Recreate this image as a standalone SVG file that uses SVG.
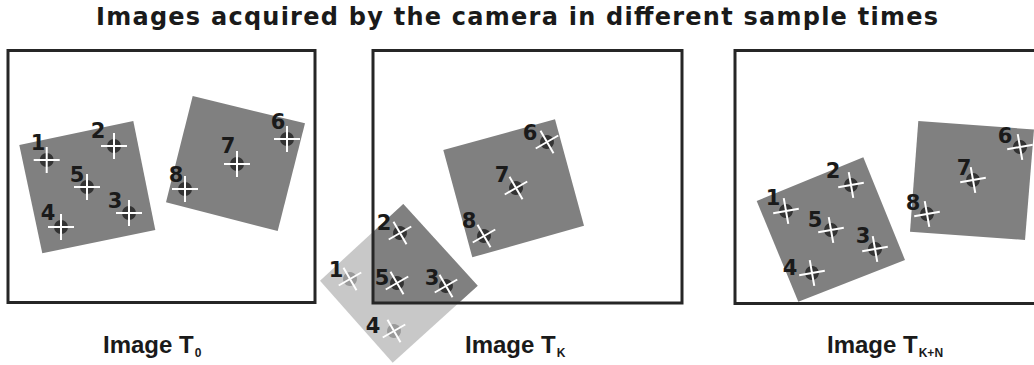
<svg xmlns="http://www.w3.org/2000/svg" xmlns:xlink="http://www.w3.org/1999/xlink" width="1034" height="365" viewBox="0 0 1034 365">
<style>
.frame{fill:none;stroke:#262626;stroke-width:3}
.sq{fill:#808080}
.sql{fill:#c8c8c8}
.num{font-family:"DejaVu Sans","Liberation Sans",sans-serif;font-weight:bold;font-size:21px;fill:#1a1a1a;text-anchor:middle}
.cap{font-family:"Liberation Sans",Arial,sans-serif;font-weight:bold;font-size:24px;fill:#1a1a1a}
.ttl{font-family:"DejaVu Sans","Liberation Sans",sans-serif;font-weight:bold;font-size:24px;fill:#1a1a1a}
.sub{font-size:12px}
</style>
<defs>
<g id="m"><circle r="7" fill="#333"/><path d="M-13 0H13M0-13V13" stroke="#fff" stroke-width="2" fill="none"/></g>
<g id="ml"><circle r="7" fill="#9a9a9a"/><path d="M-13 0H13M0-13V13" stroke="#fff" stroke-width="2" fill="none"/></g>
<clipPath id="f2clip"><rect x="373" y="50.5" width="309" height="252.5"/></clipPath>
</defs>
<rect width="1034" height="365" fill="#fff"/>
<text id="title" class="ttl" x="96" y="25" textLength="842" lengthAdjust="spacing">Images acquired by the camera in different sample times</text>

<g id="image-t0">
<rect class="frame" x="8" y="50.5" width="307" height="252"/>
<polygon class="sq" points="19.3,145 133.3,121 155.3,230 42.3,253.3"/>
<polygon class="sq" points="192.7,96 305,123.3 277.7,231 166,202.3"/>
<use xlink:href="#m" transform="translate(46.7,160)"/>
<use xlink:href="#m" transform="translate(114,146)"/>
<use xlink:href="#m" transform="translate(129,213)"/>
<use xlink:href="#m" transform="translate(61,227)"/>
<use xlink:href="#m" transform="translate(87,187)"/>
<use xlink:href="#m" transform="translate(287,139)"/>
<use xlink:href="#m" transform="translate(237,164)"/>
<use xlink:href="#m" transform="translate(185,189)"/>
<text class="num" x="38" y="150">1</text>
<text class="num" x="98" y="138">2</text>
<text class="num" x="115" y="208">3</text>
<text class="num" x="48" y="220">4</text>
<text class="num" x="77" y="182">5</text>
<text class="num" x="278" y="129">6</text>
<text class="num" x="228" y="153">7</text>
<text class="num" x="176" y="182">8</text>
<text class="cap" x="103" y="353">Image T<tspan class="sub" dx="1" dy="4">0</tspan></text>
</g>

<g id="image-tk">
<polygon class="sql" points="403.3,204 477.7,285.7 392.7,362.7 320,280.7"/>
<polygon class="sq" clip-path="url(#f2clip)" points="403.3,204 477.7,285.7 392.7,362.7 320,280.7"/>
<polygon class="sq" points="443.3,150 555,119.3 584,225.7 472.3,257.3"/>
<rect class="frame" x="373" y="50.5" width="309" height="252.5"/>
<use xlink:href="#ml" transform="translate(350,279) rotate(-30)"/>
<use xlink:href="#m" transform="translate(400,233) rotate(-30)"/>
<use xlink:href="#m" transform="translate(446,286) rotate(-30)"/>
<use xlink:href="#ml" transform="translate(394,331) rotate(-30)"/>
<use xlink:href="#m" transform="translate(397,283) rotate(-30)"/>
<use xlink:href="#m" transform="translate(547,142) rotate(-30)"/>
<use xlink:href="#m" transform="translate(516,188) rotate(-30)"/>
<use xlink:href="#m" transform="translate(484,236) rotate(-30)"/>
<text class="num" x="336" y="277">1</text>
<text class="num" x="384" y="230">2</text>
<text class="num" x="432" y="285">3</text>
<text class="num" x="373" y="333">4</text>
<text class="num" x="382" y="285">5</text>
<text class="num" x="530" y="140">6</text>
<text class="num" x="502" y="182">7</text>
<text class="num" x="469" y="228">8</text>
<text class="cap" x="465" y="353">Image T<tspan class="sub" dx="1" dy="4">K</tspan></text>
</g>

<g id="image-tkn">
<rect class="frame" x="735" y="50.5" width="310" height="253"/>
<polygon class="sq" points="756.7,201 863.3,157.3 905,260 798.3,301.7"/>
<polygon class="sq" points="918.3,121 1034,129.5 1025,240 910,231.7"/>
<use xlink:href="#m" transform="translate(786,211) rotate(-10)"/>
<use xlink:href="#m" transform="translate(851,185) rotate(-10)"/>
<use xlink:href="#m" transform="translate(875,249) rotate(-10)"/>
<use xlink:href="#m" transform="translate(812,273) rotate(-10)"/>
<use xlink:href="#m" transform="translate(831,230) rotate(-10)"/>
<use xlink:href="#m" transform="translate(1020,147) rotate(-10)"/>
<use xlink:href="#m" transform="translate(973,180) rotate(-10)"/>
<use xlink:href="#m" transform="translate(927,214) rotate(-10)"/>
<text class="num" x="773" y="205">1</text>
<text class="num" x="833" y="178">2</text>
<text class="num" x="863" y="243">3</text>
<text class="num" x="790" y="275">4</text>
<text class="num" x="815" y="227">5</text>
<text class="num" x="1005" y="143">6</text>
<text class="num" x="964" y="175">7</text>
<text class="num" x="913" y="210">8</text>
<text class="cap" x="827" y="353">Image T<tspan class="sub" dx="1" dy="4">K+N</tspan></text>
</g>

<g id="connectors"/>
</svg>
